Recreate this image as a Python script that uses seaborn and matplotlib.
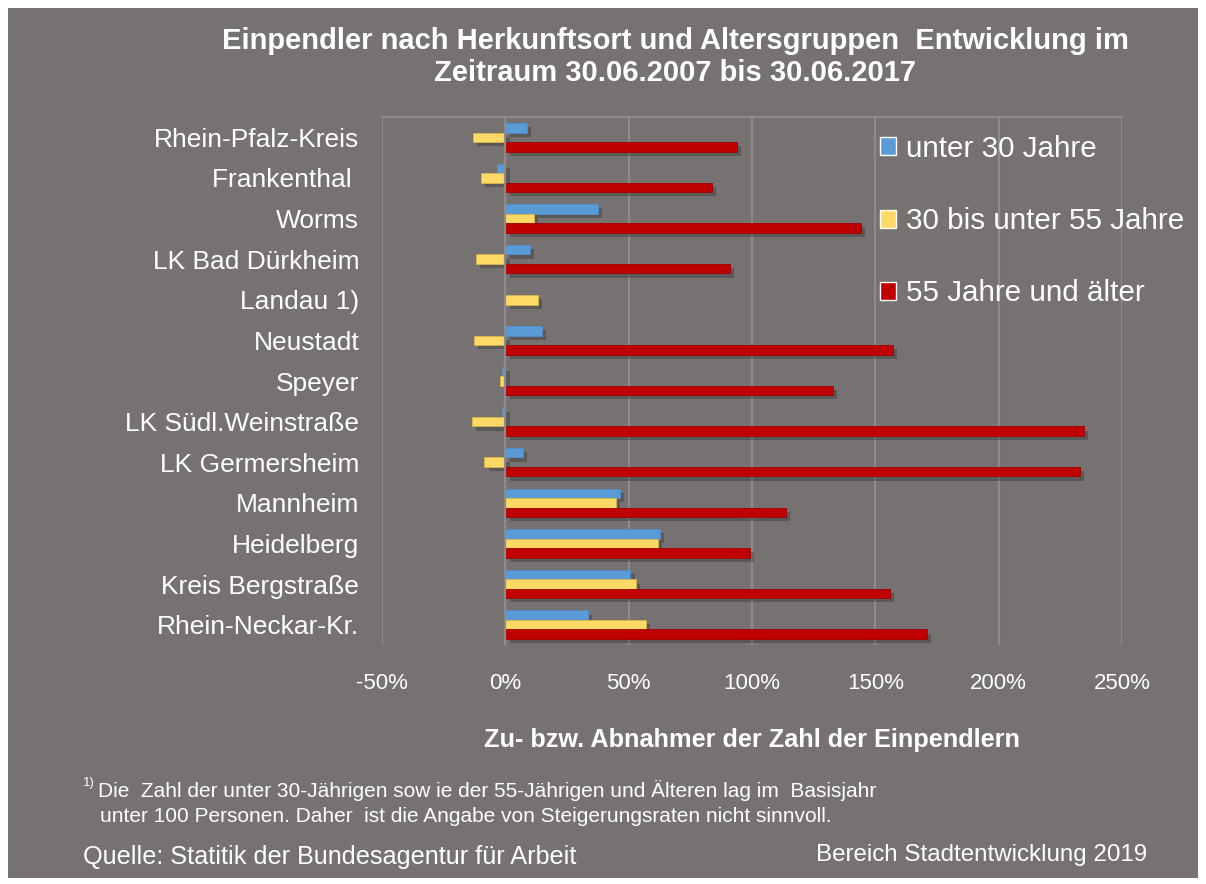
import numpy as np
import pandas as pd
import matplotlib.pyplot as plt
import matplotlib.patheffects as pe
from matplotlib.patches import Rectangle
import seaborn as sns


# data (Veraenderung in %, 30.06.2007 bis 30.06.2017)
ORTE = ["Rhein-Pfalz-Kreis", "Frankenthal ", "Worms", "LK Bad Dürkheim", "Landau 1)",
        "Neustadt", "Speyer", "LK Südl.Weinstraße", "LK Germersheim", "Mannheim",
        "Heidelberg", "Kreis Bergstraße", "Rhein-Neckar-Kr."]
GRUPPEN = ["unter 30 Jahre", "30 bis unter 55 Jahre", "55 Jahre und älter"]
UNTER_30 = [8.8, -3.5, 37.6, 10.0, np.nan, 14.9, -1.4, -1.4, 7.2, 46.5, 62.7, 50.7, 33.5]
MITTE_30_55 = [-13.3, -10.0, 11.6, -11.8, 13.3, -12.6, -2.0, -13.4, -8.5, 44.9, 61.8, 53.0, 57.0]
AB_55 = [94.0, 83.6, 144.0, 91.0, np.nan, 157.0, 132.7, 234.5, 233.0, 113.6, 99.0, 156.0, 171.0]
X_TICKS = [-50, 0, 50, 100, 150, 200, 250]

# colours
BG = "#767272"
GRID = "#8e8a8a"
FARBEN = ["#5b9bd5", "#ffd966", "#c00000"]
KANTEN = ["#4f8cc9", "#d9b44a", "#a00000"]


def build_frame():
    rows = []
    for gruppe, werte in zip(GRUPPEN, [UNTER_30, MITTE_30_55, AB_55]):
        for ort, wert in zip(ORTE, werte):
            rows.append({"Ort": ort, "Gruppe": gruppe, "Wert": wert})
    return pd.DataFrame(rows)


def main():
    df = build_frame()

    sns.set_style("white")
    plt.rcParams["font.family"] = ["Liberation Sans", "DejaVu Sans"]

    fig = plt.figure(figsize=(12.06, 8.84), dpi=100, facecolor="white")
    # grey card behind everything
    fig.patches.append(Rectangle((8 / 1206, 6 / 884), 1190 / 1206, 870 / 884,
                                 transform=fig.transFigure, facecolor=BG,
                                 edgecolor="none", zorder=-10))

    ax = fig.add_axes([382 / 1206, 1 - 645 / 884, 740 / 1206, 528 / 884])
    ax.set_facecolor(BG)

    sns.barplot(data=df, y="Ort", x="Wert", hue="Gruppe", hue_order=GRUPPEN,
                order=ORTE, orient="h", palette=FARBEN, saturation=1, width=0.7,
                errorbar=None, ax=ax, zorder=3)

    # edges + drop shadow on bars
    for cont, kante in zip(ax.containers, KANTEN):
        for bar in cont:
            bar.set_edgecolor(kante)
            bar.set_linewidth(0.6)
            bar.set_path_effects([pe.SimplePatchShadow(offset=(3, -3), shadow_rgbFace="#2a2a2a", alpha=0.35),
                                  pe.Normal()])

    ax.set_xlim(-50, 250)
    ax.set_ylim(len(ORTE) - 0.5, -0.5)
    ax.set_xticks(X_TICKS)
    ax.set_xticklabels([f"{t}%" for t in X_TICKS])
    ax.grid(axis="x", color=GRID, linewidth=1.6, zorder=0)
    ax.set_axisbelow(True)

    # y axis sits on the zero line, ticks between categories
    for s in ["right", "bottom"]:
        ax.spines[s].set_visible(False)
    ax.spines["top"].set_color(GRID)
    ax.spines["top"].set_linewidth(1.6)
    ax.spines["left"].set_position(("data", 0))
    ax.spines["left"].set_color(GRID)
    ax.spines["left"].set_linewidth(1.6)
    ax.spines["left"].set_zorder(4)
    ax.set_yticks(np.arange(len(ORTE) + 1) - 0.5, minor=True)
    ax.tick_params(axis="y", which="minor", length=7, width=1.6, color=GRID, direction="out")
    ax.tick_params(axis="y", which="major", length=0, pad=(505 - 359) * 0.72,
                   labelsize=19, labelcolor="white")
    ax.tick_params(axis="x", length=0, pad=20, labelsize=16, labelcolor="white")

    ax.set_ylabel("")
    ax.set_xlabel("Zu- bzw. Abnahmer der Zahl der Einpendlern", fontsize=18.2,
                  fontweight="bold", color="white", labelpad=25)

    handles, labels = ax.get_legend_handles_labels()
    ax.legend(handles, labels, loc="upper left", bbox_to_anchor=(859 / 1206, 1 - 114 / 884),
              bbox_transform=fig.transFigure, frameon=False, fontsize=21.3,
              labelcolor="white", handlelength=0.55, handleheight=0.55,
              handletextpad=0.35, labelspacing=1.5, borderpad=0.2)

    fig.text(675 / 1206, 1 - 27 / 884,
             "Einpendler nach Herkunftsort und Altersgruppen  Entwicklung im\nZeitraum 30.06.2007 bis 30.06.2017",
             ha="center", va="top", fontsize=21, fontweight="bold", color="white", linespacing=1.2)

    narrow = ["Liberation Sans Narrow", "Liberation Sans", "DejaVu Sans"]
    fig.text(83 / 1206, 1 - 783 / 884, "1)", fontsize=9.5, color="white", family=narrow, va="center")
    fig.text(98 / 1206, 1 - 790 / 884,
             "Die  Zahl der unter 30-Jährigen sow ie der 55-Jährigen und Älteren lag im  Basisjahr",
             fontsize=15, color="white", family=narrow, va="center")
    fig.text(100 / 1206, 1 - 816 / 884,
             "unter 100 Personen. Daher  ist die Angabe von Steigerungsraten nicht sinnvoll.",
             fontsize=15, color="white", family=narrow, va="center")
    fig.text(83 / 1206, 1 - 857 / 884, "Quelle: Statitik der Bundesagentur für Arbeit",
             fontsize=18.2, color="white", family=narrow, va="center")
    fig.text(1147 / 1206, 1 - 855 / 884, "Bereich Stadtentwicklung 2019",
             fontsize=17.4, color="white", family=narrow, va="center", ha="right")

    fig.savefig("out.png", dpi=100, facecolor=fig.get_facecolor())
    plt.close(fig)


if __name__ == "__main__":
    main()
